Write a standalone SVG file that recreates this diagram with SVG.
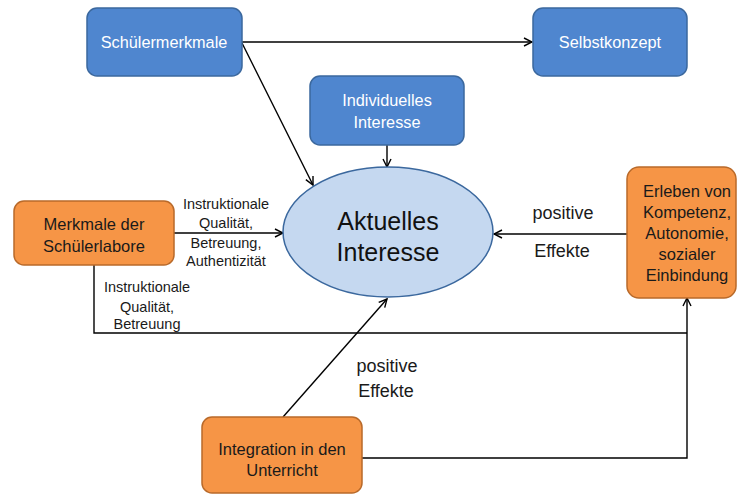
<svg xmlns="http://www.w3.org/2000/svg" width="737" height="494" viewBox="0 0 737 494">
<style>
text{font-family:"Liberation Sans",Arial,sans-serif;text-anchor:middle}
.blue{fill:#4F86CF;stroke:#3B689E;stroke-width:1.5}
.orange{fill:#F69546;stroke:#B96A2A;stroke-width:1.5}
.wt{fill:#FFFFFF;font-size:16.3px}
.bt{fill:#1a1a1a;font-size:16.5px}
.lab{fill:#1a1a1a;font-size:14.5px}
.elab{fill:#1a1a1a;font-size:18px}
.conn{stroke:#000;stroke-width:1.4;fill:none}
</style>
<defs>
<marker id="ah" markerWidth="10" markerHeight="10" refX="9" refY="5" orient="auto" markerUnits="userSpaceOnUse">
<path d="M1,1 L9,5 L1,9" fill="none" stroke="#000" stroke-width="1.4"/>
</marker>
</defs>
<g id="connectors">
<line class="conn" x1="242" y1="42" x2="532" y2="42" marker-end="url(#ah)"/>
<line class="conn" x1="242" y1="43" x2="313" y2="185" marker-end="url(#ah)"/>
<line class="conn" x1="387" y1="145" x2="387" y2="167" marker-end="url(#ah)"/>
<line class="conn" x1="174" y1="233" x2="283" y2="233" marker-end="url(#ah)"/>
<line class="conn" x1="627" y1="234" x2="494" y2="234" marker-end="url(#ah)"/>
<line class="conn" x1="283" y1="417" x2="387" y2="299" marker-end="url(#ah)"/>
<polyline class="conn" points="94,265 94,333 687,333"/>
<polyline class="conn" points="362,458 687,458 687,298" marker-end="url(#ah)"/>
<text class="lab" x="226" y="209">Instruktionale</text>
<text class="lab" x="226" y="228">Qualität,</text>
<text class="lab" x="226" y="248">Betreuung,</text>
<text class="lab" x="226" y="266">Authentizität</text>
<text class="lab" x="147" y="292">Instruktionale</text>
<text class="lab" x="147" y="312">Qualität,</text>
<text class="lab" x="147" y="329">Betreuung</text>
<text class="elab" x="563" y="219">positive</text>
<text class="elab" x="562" y="257">Effekte</text>
<text class="elab" x="387" y="372">positive</text>
<text class="elab" x="386" y="397">Effekte</text>
</g>
<g id="schuelermerkmale">
<rect class="blue" x="87" y="8" width="155" height="68" rx="10"/>
<text class="wt" x="164" y="48">Schülermerkmale</text>
</g>
<g id="selbstkonzept">
<rect class="blue" x="533" y="8" width="154" height="68" rx="10"/>
<text class="wt" x="610" y="48">Selbstkonzept</text>
</g>
<g id="individuelles">
<rect class="blue" x="310" y="76" width="154" height="69" rx="10"/>
<text class="wt" x="387" y="106">Individuelles</text>
<text class="wt" x="387" y="128">Interesse</text>
</g>
<g id="aktuelles">
<ellipse cx="388" cy="232" rx="105" ry="65" fill="#C5D8F0" stroke="#3B689E" stroke-width="1.5"/>
<text x="388" y="230" style="font-size:25px;fill:#111">Aktuelles</text>
<text x="388" y="261" style="font-size:25px;fill:#111">Interesse</text>
</g>
<g id="merkmale">
<rect class="orange" x="14" y="201" width="160" height="64" rx="10"/>
<text class="bt" x="94" y="230">Merkmale der</text>
<text class="bt" x="94" y="252">Schülerlabore</text>
</g>
<g id="erleben">
<rect class="orange" x="627" y="167" width="109" height="131" rx="12"/>
<text class="bt" x="687" y="197">Erleben von</text>
<text class="bt" x="687" y="218">Kompetenz,</text>
<text class="bt" x="687" y="239">Autonomie,</text>
<text class="bt" x="687" y="260">sozialer</text>
<text class="bt" x="687" y="281">Einbindung</text>
</g>
<g id="integration">
<rect class="orange" x="202" y="417" width="160" height="76" rx="10"/>
<text class="bt" x="282" y="455">Integration in den</text>
<text class="bt" x="282" y="476">Unterricht</text>
</g>
</svg>
